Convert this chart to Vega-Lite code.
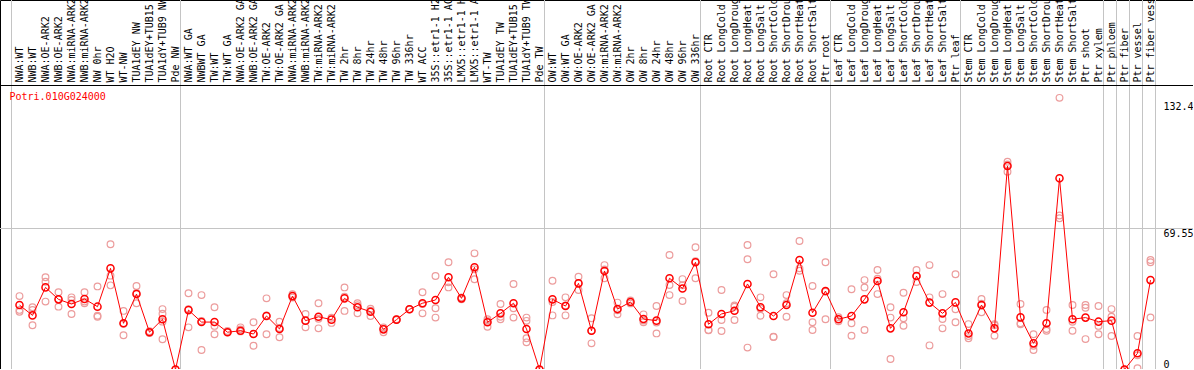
{
  "$schema": "https://vega.github.io/schema/vega-lite/v6.json",
  "width": 1193,
  "height": 369,
  "autosize": {"type": "none"},
  "padding": 0,
  "background": "white",
  "config": {"view": {"stroke": "black", "strokeWidth": 1}, "font": "DejaVu Sans Mono"},
  "datasets": {
    "samples": [
      {"k": 0, "sample": "NWA:WT", "mean": 31.8},
      {"k": 1, "sample": "NWB:WT", "mean": 26.7},
      {"k": 2, "sample": "NWA:OE-ARK2", "mean": 40.5},
      {"k": 3, "sample": "NWB:OE-ARK2", "mean": 34.6},
      {"k": 4, "sample": "NWA:miRNA-ARK2", "mean": 32.3},
      {"k": 5, "sample": "NWB:miRNA-ARK2", "mean": 34.8},
      {"k": 6, "sample": "NW 0hr", "mean": 31.0},
      {"k": 7, "sample": "WT H2O", "mean": 49.9},
      {"k": 8, "sample": "WT-NW", "mean": 22.8},
      {"k": 9, "sample": "TUA1dEY NW", "mean": 37.2},
      {"k": 10, "sample": "TUA1dEY+TUB15 NW", "mean": 18.4},
      {"k": 11, "sample": "TUA1dY+TUB9 NW", "mean": 24.8},
      {"k": 12, "sample": "Pde NW", "mean": 0},
      {"k": 13, "sample": "NWA:WT GA", "mean": 29.3},
      {"k": 14, "sample": "NWBWT GA", "mean": 23.4},
      {"k": 15, "sample": "TW:WT", "mean": 23.4},
      {"k": 16, "sample": "TW:WT GA", "mean": 18.4},
      {"k": 17, "sample": "NWA:OE-ARK2 GA", "mean": 19.1},
      {"k": 18, "sample": "NWB:OE-ARK2 GA", "mean": 17.5},
      {"k": 19, "sample": "TW:OE-ARK2", "mean": 26.4},
      {"k": 20, "sample": "TW:OE-ARK2 GA", "mean": 20.0},
      {"k": 21, "sample": "NWA:miRNA-ARK2 GA", "mean": 36.2},
      {"k": 22, "sample": "NWB:miRNA-ARK2 GA", "mean": 24.1},
      {"k": 23, "sample": "TW:miRNA-ARK2", "mean": 26.0},
      {"k": 24, "sample": "TW:miRNA-ARK2 GA", "mean": 24.6},
      {"k": 25, "sample": "TW 2hr", "mean": 35.1},
      {"k": 26, "sample": "TW 8hr", "mean": 30.7},
      {"k": 27, "sample": "TW 24hr", "mean": 28.5},
      {"k": 28, "sample": "TW 48hr", "mean": 19.8},
      {"k": 29, "sample": "TW 96hr", "mean": 24.6},
      {"k": 30, "sample": "TW 336hr", "mean": 29.7},
      {"k": 31, "sample": "WT ACC", "mean": 32.7},
      {"k": 32, "sample": "35S::etr1-1 H2O", "mean": 34.3},
      {"k": 33, "sample": "35S::etr1-1 ACC", "mean": 45.5},
      {"k": 34, "sample": "LMX5::etr1-1 H2O", "mean": 35.1},
      {"k": 35, "sample": "LMX5::etr1-1 ACC", "mean": 50.4},
      {"k": 36, "sample": "WT-TW", "mean": 23.3},
      {"k": 37, "sample": "TUA1dEY TW", "mean": 27.7},
      {"k": 38, "sample": "TUA1dEY+TUB15 TW", "mean": 32.7},
      {"k": 39, "sample": "TUA1dY+TUB9 TW", "mean": 20.0},
      {"k": 40, "sample": "Pde TW", "mean": 0},
      {"k": 41, "sample": "OW:WT", "mean": 34.6},
      {"k": 42, "sample": "OW:WT GA", "mean": 31.3},
      {"k": 43, "sample": "OW:OE-ARK2", "mean": 42.5},
      {"k": 44, "sample": "OW:OE-ARK2 GA", "mean": 19.1},
      {"k": 45, "sample": "OW:miRNA-ARK2", "mean": 48.6},
      {"k": 46, "sample": "OW:miRNA-ARK2 GA", "mean": 29.8},
      {"k": 47, "sample": "OW 2hr", "mean": 33.3},
      {"k": 48, "sample": "OW 8hr", "mean": 24.9},
      {"k": 49, "sample": "OW 24hr", "mean": 24.1},
      {"k": 50, "sample": "OW 48hr", "mean": 45.0},
      {"k": 51, "sample": "OW 96hr", "mean": 40.0},
      {"k": 52, "sample": "OW 336hr", "mean": 52.9},
      {"k": 53, "sample": "Root CTR", "mean": 22.3},
      {"k": 54, "sample": "Root LongCold", "mean": 27.4},
      {"k": 55, "sample": "Root LongDrought", "mean": 29.0},
      {"k": 56, "sample": "Root LongHeat", "mean": 42.2},
      {"k": 57, "sample": "Root LongSalt", "mean": 30.7},
      {"k": 58, "sample": "Root ShortCold", "mean": 26.4},
      {"k": 59, "sample": "Root ShortDrought", "mean": 31.8},
      {"k": 60, "sample": "Root ShortHeat", "mean": 54.0},
      {"k": 61, "sample": "Root ShortSalt", "mean": 28.0},
      {"k": 62, "sample": "Ptr root", "mean": 38.7},
      {"k": 63, "sample": "Leaf CTR", "mean": 24.8},
      {"k": 64, "sample": "Leaf LongCold", "mean": 26.4},
      {"k": 65, "sample": "Leaf LongDrought", "mean": 34.6},
      {"k": 66, "sample": "Leaf LongHeat", "mean": 43.7},
      {"k": 67, "sample": "Leaf LongSalt", "mean": 20.3},
      {"k": 68, "sample": "Leaf ShortCold", "mean": 28.2},
      {"k": 69, "sample": "Leaf ShortDrought", "mean": 46.1},
      {"k": 70, "sample": "Leaf ShortHeat", "mean": 33.0},
      {"k": 71, "sample": "Leaf ShortSalt", "mean": 27.7},
      {"k": 72, "sample": "Ptr leaf", "mean": 33.1},
      {"k": 73, "sample": "Stem CTR", "mean": 17.8},
      {"k": 74, "sample": "Stem LongCold", "mean": 31.8},
      {"k": 75, "sample": "Stem LongDrought", "mean": 20.3},
      {"k": 76, "sample": "Stem LongHeat", "mean": 100.4},
      {"k": 77, "sample": "Stem LongSalt", "mean": 25.7},
      {"k": 78, "sample": "Stem ShortCold", "mean": 12.9},
      {"k": 79, "sample": "Stem ShortDrought", "mean": 22.8},
      {"k": 80, "sample": "Stem ShortHeat", "mean": 94.3},
      {"k": 81, "sample": "Stem ShortSalt", "mean": 24.8},
      {"k": 82, "sample": "Ptr shoot", "mean": 25.6},
      {"k": 83, "sample": "Ptr xylem", "mean": 23.6},
      {"k": 84, "sample": "Ptr phloem", "mean": 24.1},
      {"k": 85, "sample": "Ptr fiber", "mean": 0},
      {"k": 86, "sample": "Ptr vessel", "mean": 8.0},
      {"k": 87, "sample": "Ptr fiber vessel", "mean": 44.1}
    ],
    "reps": [
      {"k": 0, "value": 36.2}, {"k": 0, "value": 29.4}, {"k": 0, "value": 28.5},
      {"k": 1, "value": 30.7}, {"k": 1, "value": 29.4}, {"k": 1, "value": 21.8},
      {"k": 2, "value": 45.5}, {"k": 2, "value": 43.3}, {"k": 2, "value": 33.5},
      {"k": 3, "value": 38.1}, {"k": 3, "value": 34.6}, {"k": 3, "value": 31.0},
      {"k": 4, "value": 35.6}, {"k": 4, "value": 34.3}, {"k": 4, "value": 27.4},
      {"k": 5, "value": 38.1}, {"k": 5, "value": 33.5}, {"k": 5, "value": 32.7},
      {"k": 6, "value": 41.0}, {"k": 6, "value": 26.5}, {"k": 6, "value": 26.0},
      {"k": 7, "value": 61.8}, {"k": 7, "value": 46.3}, {"k": 7, "value": 41.5},
      {"k": 8, "value": 28.9}, {"k": 8, "value": 22.6}, {"k": 8, "value": 16.9},
      {"k": 9, "value": 41.2}, {"k": 9, "value": 37.7}, {"k": 9, "value": 32.7},
      {"k": 10, "value": 18.9}, {"k": 10, "value": 18.4}, {"k": 10, "value": 18.0},
      {"k": 11, "value": 29.8}, {"k": 11, "value": 27.5}, {"k": 11, "value": 23.6}, {"k": 11, "value": 14.9},
      {"k": 12, "value": 0},
      {"k": 13, "value": 37.6}, {"k": 13, "value": 29.8}, {"k": 13, "value": 20.8},
      {"k": 14, "value": 36.7}, {"k": 14, "value": 23.9}, {"k": 14, "value": 9.6},
      {"k": 15, "value": 30.7}, {"k": 15, "value": 21.5}, {"k": 15, "value": 17.4},
      {"k": 16, "value": 19.0}, {"k": 16, "value": 18.4},
      {"k": 17, "value": 20.8}, {"k": 17, "value": 19.8}, {"k": 17, "value": 18.8},
      {"k": 18, "value": 23.3}, {"k": 18, "value": 17.5}, {"k": 18, "value": 11.7},
      {"k": 19, "value": 35.1}, {"k": 19, "value": 26.6}, {"k": 19, "value": 17.4},
      {"k": 20, "value": 23.6}, {"k": 20, "value": 20.5}, {"k": 20, "value": 15.9},
      {"k": 21, "value": 37.1}, {"k": 21, "value": 35.5},
      {"k": 22, "value": 27.4}, {"k": 22, "value": 24.1}, {"k": 22, "value": 20.8},
      {"k": 23, "value": 32.7}, {"k": 23, "value": 25.0}, {"k": 23, "value": 20.3},
      {"k": 24, "value": 25.5}, {"k": 24, "value": 23.0},
      {"k": 25, "value": 40.5}, {"k": 25, "value": 35.9}, {"k": 25, "value": 28.9},
      {"k": 26, "value": 32.7}, {"k": 26, "value": 31.7}, {"k": 26, "value": 27.7},
      {"k": 27, "value": 30.0}, {"k": 27, "value": 29.0}, {"k": 27, "value": 26.4},
      {"k": 28, "value": 20.8}, {"k": 28, "value": 20.2}, {"k": 28, "value": 18.4},
      {"k": 29, "value": 24.8}, {"k": 29, "value": 24.4},
      {"k": 30, "value": 29.7}, {"k": 30, "value": 29.7},
      {"k": 31, "value": 38.1}, {"k": 31, "value": 32.3}, {"k": 31, "value": 27.7},
      {"k": 32, "value": 46.1}, {"k": 32, "value": 30.2}, {"k": 32, "value": 25.6},
      {"k": 33, "value": 52.9}, {"k": 33, "value": 43.0}, {"k": 33, "value": 40.5},
      {"k": 34, "value": 35.6}, {"k": 34, "value": 34.6},
      {"k": 35, "value": 57.3}, {"k": 35, "value": 49.4}, {"k": 35, "value": 44.5},
      {"k": 36, "value": 24.8}, {"k": 36, "value": 24.0}, {"k": 36, "value": 21.1},
      {"k": 37, "value": 32.3}, {"k": 37, "value": 26.0}, {"k": 37, "value": 24.8},
      {"k": 38, "value": 42.2}, {"k": 38, "value": 30.2}, {"k": 38, "value": 25.6},
      {"k": 39, "value": 25.6}, {"k": 39, "value": 24.0}, {"k": 39, "value": 15.4}, {"k": 39, "value": 13.4},
      {"k": 40, "value": 0},
      {"k": 41, "value": 43.8}, {"k": 41, "value": 33.3}, {"k": 41, "value": 26.7},
      {"k": 42, "value": 35.6}, {"k": 42, "value": 31.6}, {"k": 42, "value": 26.7},
      {"k": 43, "value": 45.8}, {"k": 43, "value": 42.5}, {"k": 43, "value": 39.2},
      {"k": 44, "value": 25.3}, {"k": 44, "value": 19.1}, {"k": 44, "value": 12.9},
      {"k": 45, "value": 51.5}, {"k": 45, "value": 49.3}, {"k": 45, "value": 45.0},
      {"k": 46, "value": 33.0}, {"k": 46, "value": 29.2}, {"k": 46, "value": 27.2},
      {"k": 47, "value": 34.0}, {"k": 47, "value": 32.6},
      {"k": 48, "value": 27.2}, {"k": 48, "value": 24.2}, {"k": 48, "value": 23.3},
      {"k": 49, "value": 31.3}, {"k": 49, "value": 23.2}, {"k": 49, "value": 17.8},
      {"k": 50, "value": 56.5}, {"k": 50, "value": 41.7}, {"k": 50, "value": 36.7},
      {"k": 51, "value": 44.6}, {"k": 51, "value": 41.6}, {"k": 51, "value": 33.8},
      {"k": 52, "value": 60.3}, {"k": 52, "value": 53.4}, {"k": 52, "value": 45.0},
      {"k": 53, "value": 28.0}, {"k": 53, "value": 19.5}, {"k": 53, "value": 19.4},
      {"k": 54, "value": 39.2}, {"k": 54, "value": 24.4}, {"k": 54, "value": 19.0},
      {"k": 55, "value": 31.6}, {"k": 55, "value": 31.0}, {"k": 55, "value": 24.4},
      {"k": 56, "value": 61.4}, {"k": 56, "value": 54.4}, {"k": 56, "value": 10.8},
      {"k": 57, "value": 35.6}, {"k": 57, "value": 30.0}, {"k": 57, "value": 26.5},
      {"k": 58, "value": 47.0}, {"k": 58, "value": 16.2}, {"k": 58, "value": 16.0},
      {"k": 59, "value": 36.7}, {"k": 59, "value": 32.7}, {"k": 59, "value": 26.0},
      {"k": 60, "value": 63.4}, {"k": 60, "value": 49.9}, {"k": 60, "value": 48.7},
      {"k": 61, "value": 41.2}, {"k": 61, "value": 23.3}, {"k": 61, "value": 19.5},
      {"k": 62, "value": 52.9}, {"k": 62, "value": 38.4}, {"k": 62, "value": 24.8},
      {"k": 63, "value": 25.8}, {"k": 63, "value": 23.8},
      {"k": 64, "value": 39.6}, {"k": 64, "value": 22.8}, {"k": 64, "value": 16.7},
      {"k": 65, "value": 44.1}, {"k": 65, "value": 40.5}, {"k": 65, "value": 19.5},
      {"k": 66, "value": 49.1}, {"k": 66, "value": 44.8}, {"k": 66, "value": 37.2},
      {"k": 67, "value": 30.7}, {"k": 67, "value": 25.6}, {"k": 67, "value": 5.2},
      {"k": 68, "value": 37.9}, {"k": 68, "value": 25.3}, {"k": 68, "value": 21.6},
      {"k": 69, "value": 49.1}, {"k": 69, "value": 46.0}, {"k": 69, "value": 43.2},
      {"k": 70, "value": 51.5}, {"k": 70, "value": 35.6}, {"k": 70, "value": 11.9},
      {"k": 71, "value": 37.2}, {"k": 71, "value": 24.9}, {"k": 71, "value": 20.3},
      {"k": 72, "value": 47.0}, {"k": 72, "value": 29.7}, {"k": 72, "value": 23.3},
      {"k": 73, "value": 22.4}, {"k": 73, "value": 16.5}, {"k": 73, "value": 15.4},
      {"k": 74, "value": 34.8}, {"k": 74, "value": 32.4}, {"k": 74, "value": 28.2},
      {"k": 75, "value": 22.4}, {"k": 75, "value": 21.8}, {"k": 75, "value": 16.7},
      {"k": 76, "value": 102.5}, {"k": 76, "value": 101.1}, {"k": 76, "value": 97.6},
      {"k": 77, "value": 32.3}, {"k": 77, "value": 22.8}, {"k": 77, "value": 22.3},
      {"k": 78, "value": 17.4}, {"k": 78, "value": 11.7}, {"k": 78, "value": 9.6},
      {"k": 79, "value": 29.4}, {"k": 79, "value": 20.0}, {"k": 79, "value": 19.1},
      {"k": 80, "value": 134.0}, {"k": 80, "value": 76.0}, {"k": 80, "value": 74.6},
      {"k": 81, "value": 31.8}, {"k": 81, "value": 23.5}, {"k": 81, "value": 19.1},
      {"k": 82, "value": 31.8}, {"k": 82, "value": 30.5}, {"k": 82, "value": 15.0},
      {"k": 83, "value": 31.3}, {"k": 83, "value": 21.5}, {"k": 83, "value": 17.4},
      {"k": 84, "value": 29.8}, {"k": 84, "value": 26.0}, {"k": 84, "value": 16.5},
      {"k": 85, "value": 0},
      {"k": 86, "value": 16.5}, {"k": 86, "value": 7.0}, {"k": 86, "value": 0.6},
      {"k": 87, "value": 54.0}, {"k": 87, "value": 52.9}, {"k": 87, "value": 25.7}
    ],
    "groupStarts": [
      {"k": 0}, {"k": 13}, {"k": 41}, {"k": 53}, {"k": 63}, {"k": 73}, {"k": 84}, {"k": 85}, {"k": 86}, {"k": 87}
    ],
    "groupEnd": [{"k": 87}],
    "gene": [{"k": 0, "gene": "Potri.010G024000"}]
  },
  "encoding": {
    "x": {"field": "k", "type": "quantitative", "scale": {"domain": [0, 87], "range": [19.5, 1150.5], "nice": false, "zero": false}, "axis": null}
  },
  "layer": [
    {
      "data": {"name": "groupStarts"},
      "mark": {"type": "rule", "color": "#c4c4c4", "strokeWidth": 1, "xOffset": -8},
      "encoding": {}
    },
    {
      "data": {"name": "groupEnd"},
      "mark": {"type": "rule", "color": "#c4c4c4", "strokeWidth": 1, "xOffset": 5},
      "encoding": {}
    },
    {
      "data": {"name": "groupEnd"},
      "mark": {"type": "rule", "color": "#c4c4c4", "strokeWidth": 1},
      "encoding": {"x": null, "y": {"datum": 69.55, "type": "quantitative"}}
    },
    {
      "data": {"name": "groupEnd"},
      "mark": {"type": "rule", "color": "black", "strokeWidth": 1},
      "encoding": {"x": null, "y": {"datum": 140.1, "type": "quantitative"}}
    },
    {
      "data": {"name": "samples"},
      "mark": {"type": "text", "angle": 270, "align": "left", "baseline": "middle", "dx": 3, "font": "DejaVu Sans Mono", "fontSize": 10, "color": "black"},
      "encoding": {
        "y": {"datum": 140.1, "type": "quantitative"},
        "text": {"field": "sample"}
      }
    },
    {
      "data": {"name": "gene"},
      "mark": {"type": "text", "align": "left", "baseline": "top", "dx": -10, "dy": 6, "font": "DejaVu Sans Mono", "fontSize": 10, "color": "red"},
      "encoding": {
        "y": {"datum": 140.1, "type": "quantitative"},
        "text": {"field": "gene"}
      }
    },
    {
      "data": {"name": "reps"},
      "mark": {"type": "point", "shape": "circle", "filled": false, "size": 45, "stroke": "#ec9c9c", "strokeWidth": 1.2, "opacity": 1},
      "encoding": {
        "y": {"field": "value", "type": "quantitative"}
      }
    },
    {
      "data": {"name": "samples"},
      "mark": {"type": "line", "color": "red", "strokeWidth": 1},
      "encoding": {
        "y": {"field": "mean", "type": "quantitative"}
      }
    },
    {
      "data": {"name": "samples"},
      "mark": {"type": "point", "shape": "circle", "filled": false, "size": 50, "stroke": "red", "strokeWidth": 1.5, "opacity": 1},
      "encoding": {
        "y": {
          "field": "mean",
          "type": "quantitative",
          "scale": {"domain": [0, 140.1], "range": [369.5, 85.5], "nice": false, "zero": true},
          "axis": {
            "orient": "right",
            "offset": -38,
            "values": [0, 69.55, 132.4],
            "title": null,
            "grid": false,
            "domain": false,
            "ticks": false,
            "labelPadding": 8,
            "labelFont": "DejaVu Sans Mono",
            "labelFontSize": 10,
            "labelColor": "black",
            "labelAlign": "left",
            "labelBaseline": {"condition": {"test": "datum.value === 0", "value": "bottom"}, "value": "top"},
            "labelExpr": "datum.value === 0 ? '0' : datum.value === 69.55 ? '69.55' : '132.4'"
          }
        }
      }
    }
  ]
}
